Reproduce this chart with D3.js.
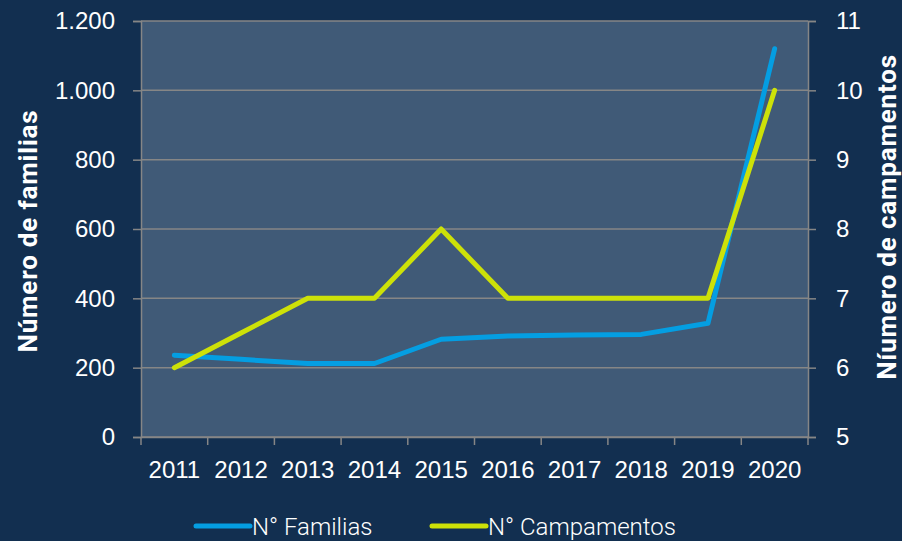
<!DOCTYPE html>
<html>
<head>
<meta charset="utf-8">
<script src="https://cdn.jsdelivr.net/npm/d3@7"></script>
<style>
  body { margin: 0; background: #122f50; }
  svg { display: block; font-family: "Roboto", "Open Sans", sans-serif; }
</style>
</head>
<body>
<div id="chart"></div>
<script>
// data
const years = ['2011','2012','2013','2014','2015','2016','2017','2018','2019','2020'];
const familias = [236, 224, 212, 212, 282, 291, 294, 296, 328, 1120];
const campamentos = [6, 6.5, 7, 7, 8, 7, 7, 7, 7, 10];
const leftTicks = [0, 200, 400, 600, 800, 1000, 1200];
const rightTicks = [5, 6, 7, 8, 9, 10, 11];

const svgwidth = 902;
const svgheight = 541;
const margin = { top: 21, bottom: 104, left: 141, right: 94 };
const width = svgwidth - margin.left - margin.right;
const height = svgheight - margin.top - margin.bottom;

const svg = d3.select('#chart').append('svg')
    .attr('width', svgwidth).attr('height', svgheight);

svg.append('rect').attr('width', svgwidth).attr('height', svgheight).attr('fill', '#122f50');

const chartGroup = svg.append('g')
    .attr('transform', `translate(${margin.left},${margin.top})`);

// plot area
chartGroup.append('rect')
    .attr('width', width).attr('height', height)
    .attr('fill', '#405a77');

// scales
const xScale = d3.scaleBand().domain(years).range([0, width]);
const yLeft = d3.scaleLinear().domain([0, 1200]).range([height, 0]);
const yRight = d3.scaleLinear().domain([5, 11]).range([height, 0]);

const fmt = d3.formatLocale({ decimal: ',', thousands: '.', grouping: [3], currency: ['', ''] }).format(',d');

// gridlines
chartGroup.append('g').selectAll('line')
    .data(leftTicks).enter().append('line')
    .attr('x1', 0).attr('x2', width)
    .attr('y1', d => yLeft(d)).attr('y2', d => yLeft(d))
    .attr('stroke', '#868686').attr('stroke-width', 1.5);

// left axis
const leftAxis = chartGroup.append('g')
    .call(d3.axisLeft(yLeft).tickValues(leftTicks).tickFormat(fmt).tickSize(8).tickPadding(18));
// right axis
const rightAxis = chartGroup.append('g')
    .attr('transform', `translate(${width},0)`)
    .call(d3.axisRight(yRight).tickValues(rightTicks).tickFormat(d3.format('d')).tickSize(8).tickPadding(20));
// x axis, ticks at band boundaries
const xAxis = chartGroup.append('g')
    .attr('transform', `translate(0,${height})`)
    .call(d3.axisBottom(xScale).tickSize(0).tickPadding(24));
xAxis.selectAll('.bound')
    .data(d3.range(years.length + 1)).enter().append('line')
    .attr('x1', i => i * xScale.step()).attr('x2', i => i * xScale.step())
    .attr('y1', 0).attr('y2', 8)
    .attr('stroke', '#868686').attr('stroke-width', 1.5);

[leftAxis, rightAxis, xAxis].forEach(ax => {
    ax.selectAll('.domain, .tick line').attr('stroke', '#868686').attr('stroke-width', 1.5);
    ax.selectAll('text').attr('fill', '#ffffff').style('font-size', '24px').style('font-weight', 300);
});

// lines
const xMid = d => xScale(d) + xScale.bandwidth() / 2;
const famLine = d3.line().x((d, i) => xMid(years[i])).y(d => yLeft(d));
const campLine = d3.line().x((d, i) => xMid(years[i])).y(d => yRight(d));

chartGroup.append('path').datum(familias)
    .attr('d', famLine).attr('fill', 'none')
    .attr('stroke', '#049ee2').attr('stroke-width', 5)
    .attr('stroke-linecap', 'round').attr('stroke-linejoin', 'round');

chartGroup.append('path').datum(campamentos)
    .attr('d', campLine).attr('fill', 'none')
    .attr('stroke', '#cde108').attr('stroke-width', 5)
    .attr('stroke-linecap', 'round').attr('stroke-linejoin', 'round');

// axis titles
svg.append('text')
    .attr('transform', 'translate(37, 231) rotate(-90)')
    .attr('text-anchor', 'middle')
    .attr('fill', '#ffffff').style('font-size', '26px').style('font-weight', 'bold')
    .style('letter-spacing', '0.8px')
    .text('Número de familias');
svg.append('text')
    .attr('transform', 'translate(896, 217) rotate(-90)')
    .attr('text-anchor', 'middle')
    .attr('fill', '#ffffff').style('font-size', '26px').style('font-weight', 'bold')
    .style('letter-spacing', '0.8px')
    .text('Níumero de campamentos');

// legend
const legendItems = [
    { name: 'N° Familias', color: '#049ee2', x: 196 },
    { name: 'N° Campamentos', color: '#cde108', x: 432 }
];
const legend = svg.append('g').attr('transform', 'translate(0, 526)');
legendItems.forEach(item => {
    legend.append('line')
        .attr('x1', item.x).attr('x2', item.x + 54)
        .attr('stroke', item.color).attr('stroke-width', 5).attr('stroke-linecap', 'round');
    legend.append('text')
        .attr('x', item.x + 56).attr('y', 9)
        .attr('fill', '#ffffff').style('font-size', '24px').style('font-weight', 300)
        .text(item.name);
});
</script>
</body>
</html>
